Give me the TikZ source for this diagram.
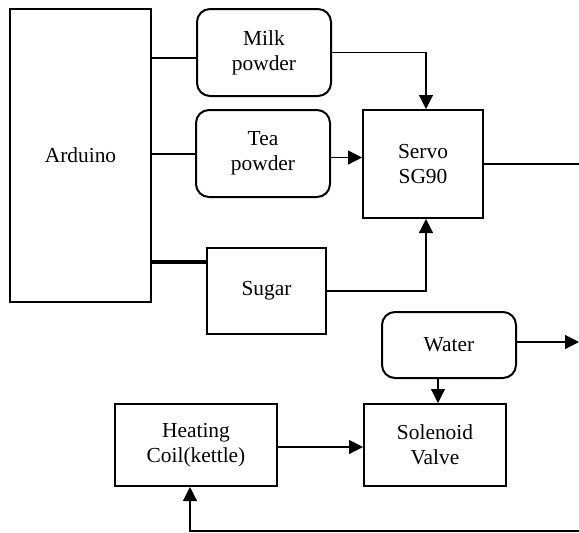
\documentclass[tikz,border=0pt]{standalone}
\usepackage{fontspec}
\setmainfont{Liberation Serif}
\usepackage{tikz}
\usetikzlibrary{arrows.meta,positioning}
\tikzset{
  blk/.style={draw, line width=1pt, align=center, inner sep=2pt,
    font=\fontsize{10.7}{12.5}\selectfont},
  rblk/.style={blk, rounded corners=6.5pt},
  wire/.style={line width=0.6pt},
  arr/.style={wire, -{Triangle[length=7pt,width=7pt]}}
}

\begin{document}
\begin{tikzpicture}[x=0.5pt,y=-0.5pt]
        \useasboundingbox (0,0) rectangle (579,532);
        % blocks
        \node[blk, minimum width=70.5pt, minimum height=146.5pt] (arduino) at (80.5,155.5) {Arduino};
        \node[rblk, minimum width=67pt, minimum height=43.5pt] (milk) at (264,52.5) {Milk\\powder};
        \node[rblk, minimum width=67pt, minimum height=43.5pt] (tea) at (263,153.5) {Tea\\powder};
        \node[blk, minimum width=59.5pt, minimum height=43pt] (sugar) at (266.5,291) {Sugar};
        \node[blk, minimum width=60pt, minimum height=54pt] (servo) at (423,164) {Servo\\SG90};
        \node[rblk, minimum width=67pt, minimum height=33pt] (water) at (449,345) {Water};
        \node[blk, minimum width=71pt, minimum height=41pt] (valve) at (435,445) {Solenoid\\Valve};
        \node[blk, minimum width=81pt, minimum height=41pt] (coil) at (196,445) {Heating\\Coil(kettle)};
        \coordinate (servoout) at (579,164);
        \coordinate (waterout) at (579,342);
        \coordinate (loop) at (579,531);
        % connections
        \draw[wire, line width=1pt] ([yshift=-2.5pt]milk.west) -- ([yshift=-2.5pt]milk.west -| arduino.east);
        \draw[wire, line width=1pt] (tea.west) -- (tea.west -| arduino.east);
        \draw[wire, line width=1.6pt] ([yshift=-7.5pt]sugar.north west) -- ([yshift=-7.5pt]sugar.north west -| arduino.east);
        \draw[arr] (milk.east) -| ([xshift=1.5pt]servo.north);
        \draw[arr] ([yshift=-2pt]tea.east) -- ([yshift=-2pt]tea.east -| servo.west);
        \draw[arr] (sugar.east) -| ([xshift=1.5pt]servo.south);
        \draw[wire] (servo.east) -- (servoout);
        \draw[arr] ([yshift=1.5pt]water.east) -- (waterout);
        \draw[arr] ([xshift=1.5pt]water.south -| valve.north) -- ([xshift=1.5pt]valve.north);
        \draw[arr] ([yshift=-1pt]coil.east) -- ([yshift=-1pt]coil.east -| valve.west);
        \draw[arr] (loop) -| ([xshift=-3pt]coil.south);
\end{tikzpicture}
\end{document}
